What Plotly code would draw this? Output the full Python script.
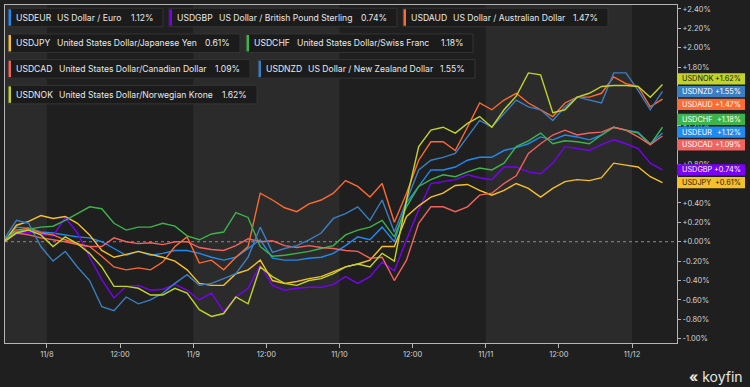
import plotly.graph_objects as go
import pandas as pd

# ---------------- data ----------------
start_time = "2021-11-07 17:00"
n_points = 55
times = pd.date_range(start_time, periods=n_points, freq="2h")

tickers = ["USDEUR", "USDGBP", "USDAUD", "USDJPY", "USDCHF", "USDCAD", "USDNZD", "USDNOK"]
names = ["US Dollar / Euro", "US Dollar / British Pound Sterling", "US Dollar / Australian Dollar",
         "United States Dollar/Japanese Yen", "United States Dollar/Swiss Franc",
         "United States Dollar/Canadian Dollar", "US Dollar / New Zealand Dollar",
         "United States Dollar/Norwegian Krone"]
changes = [1.12, 0.74, 1.47, 0.61, 1.18, 1.09, 1.55, 1.62]

usdeur = [0.00, 0.15, 0.14, 0.10, 0.09, 0.07, 0.05, 0.04, 0.00, -0.07,
          -0.14, -0.10, -0.14, -0.12, -0.09, -0.09, -0.12, -0.16, -0.19, -0.16,
          -0.07, 0.02, -0.17, -0.19, -0.19, -0.17, -0.16, -0.12, -0.04, 0.05,
          0.02, 0.15, 0.00, 0.40, 0.57, 0.74, 0.74, 0.77, 0.84, 0.87,
          0.87, 0.94, 0.97, 1.01, 1.08, 1.05, 1.10, 1.08, 1.05, 1.10,
          1.18, 1.15, 1.13, 1.01, 1.12]
usdgbp = [0.00, 0.08, 0.10, 0.08, 0.06, 0.25, 0.09, -0.16, -0.39, -0.58,
          -0.46, -0.45, -0.50, -0.49, -0.44, -0.50, -0.60, -0.53, -0.72, -0.57,
          -0.48, -0.24, -0.45, -0.50, -0.48, -0.47, -0.47, -0.44, -0.36, -0.43,
          -0.36, -0.21, -0.30, 0.02, 0.33, 0.60, 0.62, 0.64, 0.69, 0.66,
          0.64, 0.77, 0.77, 0.72, 0.70, 0.81, 0.98, 0.96, 0.94, 1.00,
          1.05, 1.01, 0.96, 0.81, 0.74]
usdaud = [0.02, 0.12, 0.14, 0.09, 0.07, 0.02, -0.02, -0.05, -0.15, -0.26,
          -0.29, -0.27, -0.29, -0.21, -0.05, 0.05, -0.22, -0.19, -0.29, -0.16,
          -0.05, 0.50, 0.43, 0.35, 0.31, 0.39, 0.43, 0.50, 0.63, 0.57,
          0.46, 0.60, 0.20, 0.50, 0.84, 1.03, 1.03, 0.94, 1.18, 1.43,
          1.36, 1.46, 1.53, 1.43, 1.36, 1.29, 1.43, 1.49, 1.49, 1.53,
          1.70, 1.63, 1.60, 1.39, 1.47]
usdjpy = [0.00, 0.17, 0.21, 0.27, 0.24, 0.26, 0.19, 0.07, -0.09, -0.16,
          -0.13, -0.10, -0.13, -0.16, -0.20, -0.29, -0.43, -0.45, -0.45, -0.33,
          -0.29, -0.19, -0.40, -0.43, -0.41, -0.38, -0.36, -0.31, -0.26, -0.23,
          -0.19, -0.05, -0.05, 0.26, 0.37, 0.46, 0.50, 0.58, 0.59, 0.53,
          0.48, 0.53, 0.60, 0.55, 0.46, 0.55, 0.62, 0.64, 0.63, 0.66,
          0.81, 0.79, 0.77, 0.67, 0.61]
usdchf = [0.03, 0.10, 0.13, 0.15, 0.16, 0.22, 0.29, 0.36, 0.34, 0.19,
          0.12, 0.15, 0.15, 0.19, 0.16, 0.06, 0.02, 0.08, 0.10, 0.30,
          0.25, -0.05, -0.15, -0.14, -0.12, -0.10, -0.07, -0.04, 0.07, 0.12,
          0.15, 0.22, 0.05, 0.36, 0.57, 0.64, 0.69, 0.67, 0.72, 0.76,
          0.74, 0.81, 0.98, 1.04, 1.12, 1.01, 1.04, 1.03, 1.01, 1.10,
          1.18, 1.15, 1.12, 1.00, 1.18]
usdcad = [0.00, 0.09, 0.07, 0.04, 0.02, 0.00, -0.03, -0.05, -0.05, 0.04,
          0.00, -0.02, -0.01, -0.03, 0.00, 0.00, -0.06, -0.08, -0.09, -0.04,
          0.03, 0.00, 0.01, -0.04, -0.06, -0.04, -0.06, -0.07, -0.09, -0.10,
          -0.17, -0.16, -0.40, -0.19, 0.19, 0.36, 0.36, 0.31, 0.36, 0.48,
          0.50, 0.60, 0.68, 0.91, 1.01, 1.10, 1.15, 1.10, 1.12, 1.13,
          1.18, 1.15, 1.08, 1.00, 1.09]
usdnzd = [0.03, 0.22, 0.19, -0.05, -0.20, -0.10, -0.26, -0.40, -0.67, -0.71,
          -0.57, -0.64, -0.60, -0.53, -0.43, -0.34, -0.45, -0.43, -0.38, -0.33,
          -0.16, 0.15, -0.11, -0.07, -0.04, 0.02, 0.09, 0.24, 0.29, 0.36,
          0.22, 0.43, 0.10, 0.43, 0.74, 0.84, 0.87, 0.91, 1.08, 1.25,
          1.18, 1.32, 1.46, 1.39, 1.36, 1.25, 1.39, 1.49, 1.46, 1.43,
          1.74, 1.74, 1.56, 1.36, 1.55]
usdnok = [0.00, 0.09, 0.12, 0.07, -0.05, 0.05, -0.02, -0.12, -0.26, -0.46,
          -0.46, -0.48, -0.55, -0.55, -0.48, -0.53, -0.70, -0.77, -0.74, -0.57,
          -0.64, -0.26, -0.36, -0.43, -0.45, -0.40, -0.38, -0.33, -0.26, -0.23,
          -0.26, -0.12, -0.20, 0.43, 0.98, 1.15, 1.18, 1.12, 1.22, 1.29,
          1.18, 1.36, 1.50, 1.74, 1.72, 1.33, 1.36, 1.49, 1.53, 1.60,
          1.61, 1.61, 1.60, 1.49, 1.62]

series_values = [usdeur, usdgbp, usdaud, usdjpy, usdchf, usdcad, usdnzd, usdnok]

x_tick_vals = ["2021-11-08 00:00", "2021-11-08 12:00", "2021-11-09 00:00", "2021-11-09 12:00",
               "2021-11-10 00:00", "2021-11-10 12:00", "2021-11-11 00:00", "2021-11-11 12:00",
               "2021-11-12 00:00"]
x_tick_text = ["11/8", "12:00", "11/9", "12:00", "11/10", "12:00", "11/11", "12:00", "11/12"]
y_tick_vals = [round(-1.0 + 0.2 * i, 2) for i in range(18)]
y_tick_text = [f"{v:+.2f}%" for v in y_tick_vals]

# ---------------- styling / layout ----------------
colors = ["#1f8bf0", "#7a00f5", "#ff6a30", "#f5c02a", "#3cb44b", "#f2625e", "#3b7fc2", "#c2d32a"]
label_text_colors = ["#ffffff", "#ffffff", "#ffffff", "#1a1a1a", "#ffffff", "#ffffff", "#ffffff", "#1a1a1a"]

W, H = 750, 387
ML, MR, MT, MB = 5, 73, 5, 44
PW, PH = W - ML - MR, H - MT - MB
Y_RANGE = [-1.044, 2.44]
X_RANGE = ["2021-11-07 17:07", "2021-11-12 07:23"]
BG = "#1f1f1f"
BAND = "#2b2b2b"
FONT = "Inter, Roboto, 'Open Sans', sans-serif"


def xp(px):
    return (px - ML) / PW


def yp(py):
    return (H - MB - py) / PH


def v2yp(v):
    return (v - Y_RANGE[0]) / (Y_RANGE[1] - Y_RANGE[0])


fig = go.Figure()
for tk, vals, col in zip(tickers, series_values, colors):
    fig.add_trace(go.Scatter(x=times, y=vals, mode="lines", name=tk,
                             line=dict(color=col, width=1.4), showlegend=False,
                             hoverinfo="skip"))

shapes = []
# alternating day bands
for a, b in [("2021-11-07 00:00", "2021-11-08 00:00"),
             ("2021-11-09 00:00", "2021-11-10 00:00"),
             ("2021-11-11 00:00", "2021-11-12 00:00")]:
    shapes.append(dict(type="rect", xref="x", yref="paper", x0=a, x1=b, y0=0, y1=1,
                       fillcolor=BAND, line=dict(width=0), layer="below"))
# zero dotted line
shapes.append(dict(type="line", xref="paper", yref="y", x0=0, x1=1, y0=0, y1=0,
                   line=dict(color="#8c8c8c", width=1, dash="dot"), layer="below"))

annotations = []

# ---- top legend boxes (positions in pixels) ----
box_layout = [  # x0, x1, row, name_x
    (8, 163, 0, 56), (169, 397, 0, 218), (403, 608, 0, 452),
    (8, 240, 1, 56), (246, 473, 1, 296),
    (8, 250, 2, 58), (258, 475, 2, 307),
    (8, 257, 3, 58),
]
BOX_H = 18.5
for i, (bx0, bx1, row, name_x) in enumerate(box_layout):
    cy = 17.5 + 25.7 * row
    shapes.append(dict(type="rect", xref="paper", yref="paper",
                       x0=xp(bx0), x1=xp(bx1), y0=yp(cy + BOX_H / 2), y1=yp(cy - BOX_H / 2),
                       fillcolor="#1b1b1b", line=dict(color="#343434", width=1), layer="above"))
    shapes.append(dict(type="rect", xref="paper", yref="paper",
                       x0=xp(bx0 + 0.5), x1=xp(bx0 + 3), y0=yp(cy + BOX_H / 2 - 1), y1=yp(cy - BOX_H / 2 + 1),
                       fillcolor=colors[i], line=dict(width=0), layer="above"))
    tfont = dict(family=FONT, size=8.6, color="#e8e8e8")
    annotations.append(dict(xref="paper", yref="paper", x=xp(bx0 + 6), y=yp(cy), text=tickers[i],
                            xanchor="left", yanchor="middle", showarrow=False,
                            font=dict(family=FONT, size=8.6, color="#ececec")))
    annotations.append(dict(xref="paper", yref="paper", x=xp(name_x - 1), y=yp(cy), text=names[i],
                            xanchor="left", yanchor="middle", showarrow=False, font=tfont))
    annotations.append(dict(xref="paper", yref="paper", x=xp(bx1 - 8), y=yp(cy), text=f"{changes[i]:.2f}%",
                            xanchor="right", yanchor="middle", showarrow=False, font=tfont))

# ---- right-side value labels with collision avoidance ----
px_per_unit = PH / (Y_RANGE[1] - Y_RANGE[0])
spacing = 12.7 / px_per_unit
order = sorted(range(len(changes)), key=lambda i: -changes[i])
ideal = [changes[i] for i in order]
groups = [[k] for k in range(len(order))]


def group_top(g):
    m = sum(ideal[k] for k in g) / len(g)
    return m + (len(g) - 1) / 2 * spacing


merged = True
while merged:
    merged = False
    for j in range(len(groups) - 1):
        bottom_j = group_top(groups[j]) - (len(groups[j]) - 1) * spacing
        if bottom_j - group_top(groups[j + 1]) < spacing:
            groups[j] = groups[j] + groups[j + 1]
            del groups[j + 1]
            merged = True
            break
label_pos = {}
for g in groups:
    top = group_top(g)
    for n, k in enumerate(g):
        label_pos[order[k]] = top - n * spacing

LBL_H = 11.2 / px_per_unit
for i in range(len(tickers)):
    v = label_pos[i]
    shapes.append(dict(type="rect", xref="paper", yref="paper",
                       x0=xp(677), x1=xp(745), y0=v2yp(v - LBL_H / 2), y1=v2yp(v + LBL_H / 2),
                       fillcolor=colors[i], line=dict(width=0), layer="above"))
    lfont = dict(family=FONT, size=7.3, color=label_text_colors[i])
    annotations.append(dict(xref="paper", yref="paper", x=xp(680), y=v2yp(v), text=tickers[i],
                            xanchor="left", yanchor="middle", showarrow=False, font=lfont))
    annotations.append(dict(xref="paper", yref="paper", x=xp(743), y=v2yp(v), text=f"+{changes[i]:.2f}%",
                            xanchor="right", yanchor="middle", showarrow=False, font=lfont))

# tick labels that sit fully behind a value label box are not visible in the chart
visible_tick_text = []
for tv, tt in zip(y_tick_vals, y_tick_text):
    hidden = any(abs(tv - label_pos[i]) < LBL_H / 2 for i in range(len(tickers)))
    visible_tick_text.append("" if hidden else tt)

# koyfin mark
annotations.append(dict(xref="paper", yref="paper", x=xp(745), y=yp(376), text="<b>«</b> koyfin",
                        xanchor="right", yanchor="middle", showarrow=False,
                        font=dict(family=FONT, size=14, color="#e6e6e6")))

fig.update_layout(
    width=W, height=H,
    margin=dict(l=ML, r=MR, t=MT, b=MB, pad=0),
    paper_bgcolor=BG, plot_bgcolor=BG,
    font=dict(family=FONT, color="#d0d0d0"),
    shapes=shapes, annotations=annotations,
    xaxis=dict(type="date", range=X_RANGE, showgrid=False, zeroline=False,
               showline=True, linecolor="#b5b5b5", linewidth=1, mirror=True,
               tickvals=x_tick_vals, ticktext=x_tick_text, ticks="outside", ticklen=4,
               tickcolor="#b5b5b5", tickfont=dict(size=7.5, color="#d0d0d0")),
    yaxis=dict(range=Y_RANGE, side="right", showgrid=False, zeroline=False,
               showline=True, linecolor="#b5b5b5", linewidth=1, mirror=True,
               tickvals=y_tick_vals, ticktext=visible_tick_text, ticks="outside", ticklen=3,
               tickcolor="#b5b5b5", tickfont=dict(size=7.5, color="#d0d0d0")),
)

fig.write_html("out.html", post_script="document.body.style.margin='0px';",
               config={"displayModeBar": False})
